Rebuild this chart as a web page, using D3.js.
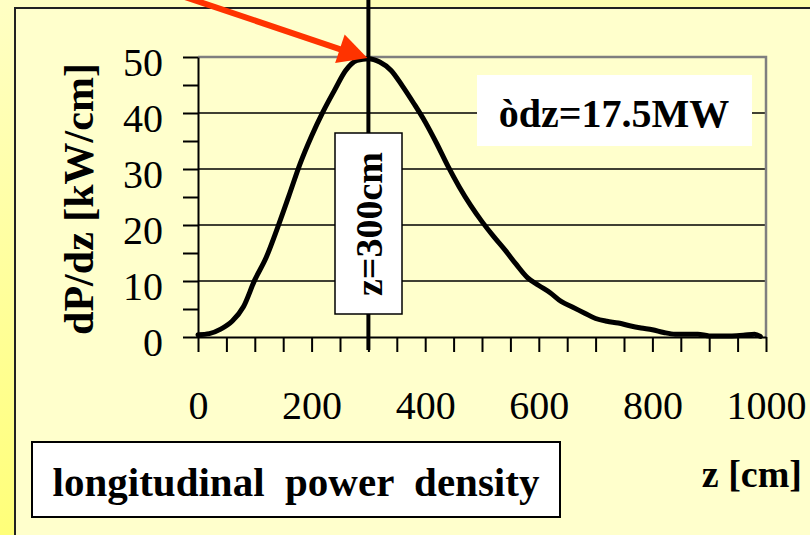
<!DOCTYPE html>
<html>
<head>
<meta charset="utf-8">
<script src="https://cdn.jsdelivr.net/npm/d3@7"></script>
<style>
  body { margin: 0; background: #ffffcc; }
  svg { display: block; }
</style>
</head>
<body>
<div id="chart"></div>
<script>
"use strict";

// == DATA ==
var zValues = [0, 20, 40, 60, 80, 100, 120, 140, 160, 180, 200, 220, 240, 260, 280, 300,
               320, 340, 360, 380, 400, 420, 440, 460, 480, 500, 520, 540, 560, 580, 600,
               620, 640, 660, 680, 700, 720, 740, 760, 780, 800, 820, 840, 860, 880, 900,
               920, 940, 960, 980, 990];
var powerValues = [0.4, 0.6, 1.4, 2.8, 5.4, 10.2, 14.2, 19.5, 25.2, 31.0, 35.9, 40.2, 44.0, 47.6, 49.4, 49.7,
                   49.1, 47.6, 44.8, 41.7, 38.4, 34.6, 30.5, 26.8, 23.5, 20.6, 18.0, 15.6, 13.0, 10.6, 9.2,
                   7.9, 6.3, 5.3, 4.3, 3.3, 2.8, 2.5, 2.0, 1.6, 1.3, 0.8, 0.5, 0.5, 0.5, 0.2,
                   0.2, 0.2, 0.3, 0.5, 0.1];
var xTickLabels = [0, 200, 400, 600, 800, 1000];
var yTickLabels = [0, 10, 20, 30, 40, 50];
var markerZ = 300;
var markerLabel = "z=300cm";
var integralLabel = "òdz=17.5MW";
var titleLabel = "longitudinal  power  density";

var data = zValues.map(function (z, i) { return { z: z, p: powerValues[i] }; });

var SERIF = "'Liberation Serif', 'Times New Roman', Times, 'DejaVu Serif', serif";

// == BOILERPLATE ==
var W = 810, H = 535;
var plot = { left: 198, top: 57, right: 766, bottom: 337 };

var svg = d3.select("#chart")
            .append("svg")
            .attr("width", W)
            .attr("height", H);

var defs = svg.append("defs");
var grad = defs.append("linearGradient")
               .attr("id", "bg")
               .attr("x1", "0").attr("y1", "0")
               .attr("x2", "0.35").attr("y2", "1");
grad.append("stop").attr("offset", "0").attr("stop-color", "#ffffc4");
grad.append("stop").attr("offset", "1").attr("stop-color", "#ffff70");

svg.append("rect").attr("width", W).attr("height", H).attr("fill", "url(#bg)");

// inner pale panel
svg.append("rect")
   .attr("x", 15).attr("y", 8)
   .attr("width", W).attr("height", H)
   .attr("fill", "#ffffcc")
   .attr("stroke", "#222")
   .attr("stroke-width", 2);

var x = d3.scaleLinear().domain([0, 1000]).range([plot.left, plot.right]);
var y = d3.scaleLinear().domain([0, 50]).range([plot.bottom, plot.top]);

// gridlines
svg.append("g")
   .selectAll("line")
   .data([10, 20, 30, 40])
   .enter()
   .append("line")
   .attr("x1", plot.left).attr("x2", plot.right)
   .attr("y1", function (d) { return y(d); })
   .attr("y2", function (d) { return y(d); })
   .attr("stroke", "#000")
   .attr("stroke-width", 1.5);

// top and right plot border (grey)
svg.append("path")
   .attr("d", "M" + plot.left + "," + y(50) + "H" + x(1000) + "V" + y(0))
   .attr("fill", "none")
   .attr("stroke", "#7f7f7f")
   .attr("stroke-width", 2.5);

// x axis ticks every 50
var xTicks = d3.axisBottom(x)
               .tickValues(d3.range(0, 1001, 50))
               .tickSize(15)
               .tickSizeOuter(0)
               .tickFormat("");
var gx = svg.append("g")
   .attr("transform", "translate(0," + y(0) + ")")
   .call(xTicks);
gx.selectAll("line, path").attr("stroke", "#000").attr("stroke-width", 2);

var xLabels = d3.axisBottom(x)
                .tickValues(xTickLabels)
                .tickFormat(d3.format("d"))
                .tickSize(0)
                .tickPadding(54);
var gxl = svg.append("g")
   .attr("transform", "translate(0," + y(0) + ")")
   .call(xLabels);
gxl.select(".domain").remove();
gxl.attr("font-family", null).attr("font-size", null);
gxl.selectAll("text")
   .style("font-size", "40px")
   .attr("dy", "0.71em");

// y axis ticks every 5
var yTicks = d3.axisLeft(y)
               .tickValues(d3.range(0, 51, 5))
               .tickSize(15)
               .tickSizeOuter(0)
               .tickFormat("");
var gy = svg.append("g")
   .attr("transform", "translate(" + x(0) + ",0)")
   .call(yTicks);
gy.selectAll("line, path").attr("stroke", "#000").attr("stroke-width", 2);

var yLabels = d3.axisLeft(y)
                .tickValues(yTickLabels)
                .tickSize(0)
                .tickPadding(35);
var gyl = svg.append("g")
   .attr("transform", "translate(" + x(0) + ",0)")
   .call(yLabels);
gyl.select(".domain").remove();
gyl.attr("font-family", null).attr("font-size", null);
gyl.selectAll("text")
   .style("font-size", "40px")
   .attr("dy", "0.45em");

// y title
svg.append("text")
   .attr("transform", "translate(93,199) rotate(-90)")
   .attr("text-anchor", "middle")
   .style("font-size", "42px")
   .style("font-weight", "bold")
   .text("dP/dz [kW/cm]");

// x title
svg.append("text")
   .attr("x", 802).attr("y", 487)
   .attr("text-anchor", "end")
   .style("font-size", "38px")
   .style("font-weight", "bold")
   .text("z [cm]");

// marker line at z=300
svg.append("line")
   .attr("x1", x(markerZ)).attr("x2", x(markerZ))
   .attr("y1", 0).attr("y2", y(0) + 13)
   .attr("stroke", "#000")
   .attr("stroke-width", 4);

// the curve
var line = d3.line()
             .x(function (d) { return x(d.z); })
             .y(function (d) { return y(d.p); })
             .curve(d3.curveMonotoneX);

svg.append("path")
   .datum(data)
   .attr("d", line)
   .attr("fill", "none")
   .attr("stroke", "#000")
   .attr("stroke-width", 5)
   .attr("stroke-linejoin", "round")
   .attr("stroke-linecap", "round");

// z=300cm box
svg.append("rect")
   .attr("x", 335).attr("y", 133)
   .attr("width", 67).attr("height", 181)
   .attr("fill", "#fff")
   .attr("stroke", "#000")
   .attr("stroke-width", 1.5);
svg.append("text")
   .attr("transform", "translate(382,224) rotate(-90)")
   .attr("text-anchor", "middle")
   .style("font-size", "38px")
   .style("font-weight", "bold")
   .text(markerLabel);

// integral box
svg.append("rect")
   .attr("x", 477).attr("y", 75)
   .attr("width", 275).attr("height", 71)
   .attr("fill", "#fff");
svg.append("text")
   .attr("x", 614).attr("y", 127)
   .attr("text-anchor", "middle")
   .style("font-size", "40px")
   .style("font-weight", "bold")
   .text(integralLabel);

// title box
svg.append("rect")
   .attr("x", 32).attr("y", 442)
   .attr("width", 528).attr("height", 75)
   .attr("fill", "#fff")
   .attr("stroke", "#000")
   .attr("stroke-width", 2);
svg.append("text")
   .attr("x", 296).attr("y", 496)
   .attr("text-anchor", "middle")
   .style("font-size", "41px")
   .style("font-weight", "bold")
   .style("white-space", "pre")
   .text(titleLabel);

// red arrow pointing at the peak
var tipX = x(markerZ) - 1, tipY = y(50) + 1;
var ang = Math.atan(0.335);
var headLen = 29, headHalf = 15;
var bx = tipX - headLen * Math.cos(ang), by = tipY - headLen * Math.sin(ang);
var nx = -Math.sin(ang), ny = Math.cos(ang);
svg.append("line")
   .attr("x1", bx - 260 * Math.cos(ang)).attr("y1", by - 260 * Math.sin(ang))
   .attr("x2", bx + 2).attr("y2", by + 1)
   .attr("stroke", "#ff3300")
   .attr("stroke-width", 6);
svg.append("path")
   .attr("d", "M" + tipX + "," + tipY +
              "L" + (bx + nx * headHalf) + "," + (by + ny * headHalf) +
              "L" + (bx - nx * headHalf) + "," + (by - ny * headHalf) + "Z")
   .attr("fill", "#ff3300");

// every label in Times-like serif
svg.selectAll("text")
   .style("font-family", SERIF)
   .style("fill", "#000");
</script>
</body>
</html>
